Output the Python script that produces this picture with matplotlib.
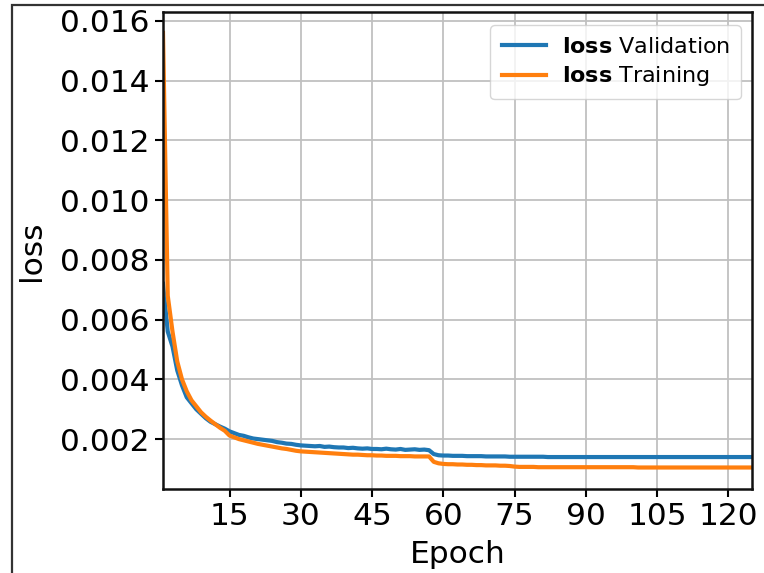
import matplotlib
matplotlib.use("Agg")
import matplotlib.pyplot as plt
from matplotlib.patches import Rectangle

epochs = list(range(1, 126))

validation = [
    0.00720, 0.00560, 0.00510, 0.00430, 0.00380, 0.00340, 0.00320, 0.00300, 0.00285, 0.00270,
    0.00258, 0.00250, 0.00242, 0.00235, 0.00226, 0.00220, 0.00214, 0.00211, 0.00206, 0.00202,
    0.00200, 0.00198, 0.00196, 0.00194, 0.00190, 0.00188, 0.00185, 0.00184, 0.00181, 0.00179,
    0.00178, 0.00177, 0.00176, 0.00177, 0.00174, 0.00175, 0.00173, 0.00172, 0.00172, 0.00170,
    0.00171, 0.00169, 0.00168, 0.00169, 0.00167, 0.00167, 0.00166, 0.00168, 0.00166, 0.00165,
    0.00167, 0.00164, 0.00165, 0.00166, 0.00164, 0.00165, 0.00163, 0.00150, 0.00146, 0.00145,
    0.00145, 0.00144, 0.00144, 0.00144, 0.00143, 0.00143, 0.00143, 0.00143, 0.00142, 0.00142,
    0.00142, 0.00142, 0.00142, 0.00141, 0.00141, 0.00141, 0.00141, 0.00141, 0.00141, 0.00141,
    0.00141, 0.00140, 0.00140, 0.00140, 0.00140, 0.00140, 0.00140, 0.00140, 0.00140, 0.00140,
    0.00140, 0.00140, 0.00140, 0.00140, 0.00140, 0.00140, 0.00140, 0.00140, 0.00140, 0.00140,
    0.00140, 0.00140, 0.00140, 0.00140, 0.00140, 0.00140, 0.00140, 0.00140, 0.00140, 0.00140,
    0.00140, 0.00140, 0.00140, 0.00140, 0.00140, 0.00140, 0.00140, 0.00140, 0.00140, 0.00140,
    0.00140, 0.00140, 0.00140, 0.00140, 0.00140,
]

training = [
    0.01560, 0.00680, 0.00560, 0.00460, 0.00400, 0.00360, 0.00330, 0.00310, 0.00290, 0.00275,
    0.00262, 0.00250, 0.00238, 0.00228, 0.00212, 0.00206, 0.00200, 0.00196, 0.00192, 0.00188,
    0.00184, 0.00181, 0.00178, 0.00175, 0.00172, 0.00169, 0.00167, 0.00164, 0.00161, 0.00159,
    0.00158, 0.00157, 0.00156, 0.00155, 0.00154, 0.00153, 0.00152, 0.00151, 0.00150, 0.00149,
    0.00148, 0.00148, 0.00147, 0.00146, 0.00146, 0.00145, 0.00145, 0.00144, 0.00144, 0.00144,
    0.00143, 0.00143, 0.00143, 0.00142, 0.00142, 0.00142, 0.00142, 0.00124, 0.00119, 0.00117,
    0.00116, 0.00116, 0.00115, 0.00115, 0.00114, 0.00114, 0.00113, 0.00113, 0.00112, 0.00112,
    0.00112, 0.00111, 0.00111, 0.00110, 0.00108, 0.00107, 0.00107, 0.00107, 0.00107, 0.00106,
    0.00106, 0.00106, 0.00106, 0.00106, 0.00106, 0.00106, 0.00106, 0.00106, 0.00106, 0.00106,
    0.00106, 0.00106, 0.00106, 0.00106, 0.00106, 0.00106, 0.00106, 0.00106, 0.00106, 0.00106,
    0.00105, 0.00105, 0.00105, 0.00105, 0.00105, 0.00105, 0.00105, 0.00105, 0.00105, 0.00105,
    0.00105, 0.00105, 0.00105, 0.00105, 0.00105, 0.00105, 0.00105, 0.00105, 0.00105, 0.00105,
    0.00105, 0.00105, 0.00105, 0.00105, 0.00105,
]

x_ticks = [15, 30, 45, 60, 75, 90, 105, 120]
y_ticks = [0.002, 0.004, 0.006, 0.008, 0.010, 0.012, 0.014, 0.016]

W, H = 764, 573
fig = plt.figure(figsize=(W / 100, H / 100), dpi=100)
ax = fig.add_axes([163 / W, 1 - 489 / H, (752 - 163) / W, (489 - 12) / H])

# outer (cropped) frame
fig.patches.append(Rectangle((12 / W, -0.2), 1.2, 1.2 - 5 / H, transform=fig.transFigure,
                             fill=False, edgecolor="#333333", linewidth=1.6, clip_on=False))

ax.plot(epochs, validation, color="#1f77b4", lw=3.0, label=r"$\bf{loss}$ Validation")
ax.plot(epochs, training, color="#ff7f0e", lw=3.0, label=r"$\bf{loss}$ Training")

ax.set_xlim(1, 125)
ax.set_ylim(0.00033, 0.0163)
ax.set_xticks(x_ticks)
ax.set_yticks(y_ticks)
ax.set_yticklabels([f"{v:.3f}" for v in y_ticks])
ax.grid(True, color="#c0c0c0", linewidth=1.3)
ax.set_axisbelow(True)
ax.tick_params(labelsize=22.5, length=6, width=1.5)
for s in ax.spines.values():
    s.set_linewidth(1.8)
    s.set_color("#111111")
ax.set_xlabel("Epoch", fontsize=22.5, labelpad=6)
ax.set_ylabel("loss", fontsize=22.5, labelpad=10)

ax.legend(loc="upper right", fontsize=16, handlelength=2.0, handletextpad=0.7,
          borderpad=0.5, labelspacing=0.35, framealpha=0.8,
          bbox_to_anchor=(1.0, 0.995))

fig.savefig("out.png", dpi=100)
